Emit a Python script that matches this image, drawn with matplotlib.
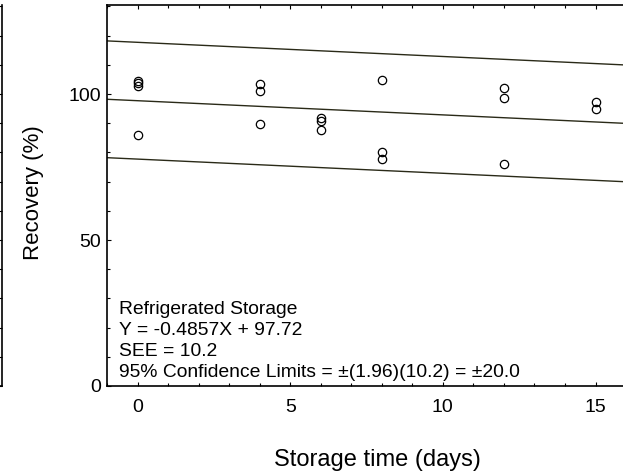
import numpy as np
import matplotlib
matplotlib.use("Agg")
import matplotlib.pyplot as plt
from matplotlib.ticker import MultipleLocator

plt.rcParams['font.family'] = ['Liberation Sans', 'DejaVu Sans']

# storage time (days) and recovery (%)
days = [0, 0, 0, 0, 4, 4, 4, 6, 6, 6, 8, 8, 8, 12, 12, 12, 15, 15]
recovery = [104.5, 103.7, 102.8, 86.1,
            103.4, 100.9, 89.7,
            91.8, 90.9, 87.7,
            104.7, 80.1, 77.6,
            102.0, 98.7, 76.1,
            97.3, 94.8]

# regression and confidence band from the annotation
slope = -0.4857
intercept = 97.72
ci = 20.0

x_ticks = [0, 5, 10, 15]
y_ticks = [0, 50, 100]

W, H = 623, 475
fig = plt.figure(figsize=(W / 100, H / 100), dpi=100)

left, right, bottom, top = 107, 623, 386, 5
ax = fig.add_axes([left / W, (H - bottom) / H, (right - left) / W, (bottom - top) / H])

# neighbouring panel edge on the far left
ax0 = fig.add_axes([-0.2, (H - bottom) / H, 0.2 + 2 / W, (bottom - top) / H])
ax0.set_ylim(0, 130.5)
ax0.set_xticks([])
ax0.yaxis.tick_right()
ax0.yaxis.set_major_locator(MultipleLocator(10))
ax0.tick_params(axis='y', direction='in', length=3, width=0.8, labelright=False)
for s in ['top', 'left']:
    ax0.spines[s].set_visible(False)
for s in ['right', 'bottom']:
    ax0.spines[s].set_linewidth(1.2)

xlim = (-1.0, 15.9)
xs = np.array(xlim)
fit = slope * xs + intercept
line_kw = dict(color='#2a2a18', lw=1.0)
ax.plot(xs, fit, **line_kw)
ax.plot(xs, fit + ci, **line_kw)
ax.plot(xs, fit - ci, **line_kw)

ax.plot(days, recovery, 'o', mfc='none', mec='black', ms=6, mew=0.9, ls='none')

ax.set_xlim(*xlim)
ax.set_ylim(0, 130.5)
ax.set_xticks(x_ticks)
ax.set_yticks(y_ticks)
ax.xaxis.set_minor_locator(MultipleLocator(1))
ax.yaxis.set_minor_locator(MultipleLocator(10))
ax.tick_params(which='both', direction='in', top=True, width=0.8)
ax.tick_params(which='major', length=3)
ax.tick_params(which='minor', length=2)
ax.tick_params(axis='x', labelsize=14, pad=9)
ax.tick_params(axis='y', labelsize=14, pad=4)
ax.spines['right'].set_visible(False)
for s in ['top', 'left', 'bottom']:
    ax.spines[s].set_linewidth(1.2)

ax.set_xlabel("Storage time (days)", fontsize=17)
ax.xaxis.set_label_coords((377 - left) / (right - left), (bottom - 460) / (bottom - top))
ax.xaxis.label.set_va('center')
ax.set_ylabel("Recovery (%)", fontsize=16)
ax.yaxis.set_label_coords((33 - left) / (right - left), (bottom - 193) / (bottom - top))
ax.yaxis.label.set_va('center')

note = ("Refrigerated Storage\n"
        "Y = -0.4857X + 97.72\n"
        "SEE = 10.2\n"
        "95% Confidence Limits = \u00b1(1.96)(10.2) = \u00b120.0")
ax.text((119 - left) / (right - left), (bottom - 381) / (bottom - top), note,
        transform=ax.transAxes, fontsize=13.9, va='bottom', ha='left', linespacing=1.3)

fig.savefig("out.png", dpi=100)
